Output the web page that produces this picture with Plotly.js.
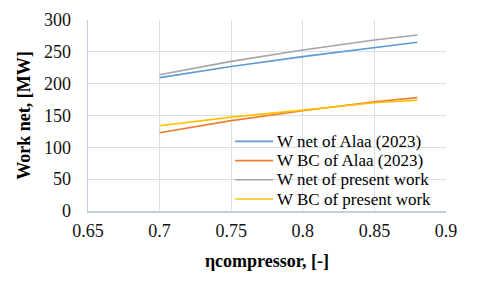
<!DOCTYPE html>
<html>
<head>
<meta charset="utf-8">
<script src="https://cdn.plot.ly/plotly-3.0.1.min.js"></script>
<style>
  html, body { margin: 0; padding: 0; background: #ffffff; }
  #chart { width: 480px; height: 282px; }
</style>
</head>
<body>
<div id="chart"></div>
<script>
// ---- data ----
const etaCompressor = [0.70, 0.75, 0.80, 0.85, 0.88];
const wNetAlaa      = [209.5, 227, 242.5, 256.5, 265];
const wBCAlaa       = [123, 142, 157.5, 171.5, 178];
const wNetPresent   = [214, 235, 253, 268.5, 276.5];
const wBCPresent    = [134, 147.5, 158.5, 170, 174];

const seriesNames  = ["W net of Alaa (2023)", "W BC of Alaa (2023)",
                      "W net of present work", "W BC of present work"];
const seriesValues = [wNetAlaa, wBCAlaa, wNetPresent, wBCPresent];
const seriesColors = ["#5B9BD5", "#ED7D31", "#A5A5A5", "#FFC000"];

const xTickVals = [0.65, 0.7, 0.75, 0.8, 0.85, 0.9];
const xTickText = ["0.65", "0.7", "0.75", "0.8", "0.85", "0.9"];
const yTickVals = [0, 50, 100, 150, 200, 250, 300];
const yTickText = ["0", "50", "100", "150", "200", "250", "300"];

const FONT = '"Liberation Serif", "Times New Roman", serif';

const traces = seriesValues.map((vals, i) => ({
  x: etaCompressor,
  y: vals,
  type: "scatter",
  mode: "lines",
  name: seriesNames[i],
  line: { color: seriesColors[i], width: 1.6 },
  showlegend: false
}));

// legend drawn as a compact key (rows spaced like the original)
const legX0 = 0.411, legX1 = 0.517, legTextX = 0.526;
const legRowsY = [0.3644, 0.2639, 0.1634, 0.0628];
const shapes = [];
const annotations = [];
seriesNames.forEach((nm, i) => {
  shapes.push({
    type: "line", xref: "paper", yref: "paper",
    x0: legX0, x1: legX1, y0: legRowsY[i], y1: legRowsY[i],
    line: { color: seriesColors[i], width: 1.6 }
  });
  annotations.push({
    xref: "paper", yref: "paper", x: legTextX, y: legRowsY[i],
    xanchor: "left", yanchor: "middle", showarrow: false,
    borderpad: 0,
    text: nm, font: { family: FONT, size: 17, color: "#000000" }
  });
});

const layout = {
  width: 480, height: 282,
  margin: { l: 88, r: 34, t: 20, b: 71 },
  paper_bgcolor: "#ffffff",
  plot_bgcolor: "#ffffff",
  font: { family: FONT, size: 18, color: "#000000" },
  xaxis: {
    range: [0.65, 0.9],
    tickvals: xTickVals, ticktext: xTickText,
    showgrid: true, gridcolor: "#d9dee7", gridwidth: 1,
    showline: true, linecolor: "#c3cedd", linewidth: 1.5,
    zeroline: false, ticks: "",
    ticklabelstandoff: 3,
    tickfont: { family: FONT, size: 18, color: "#111111" },
    title: { text: "ηcompressor, [-]", standoff: 14,
             font: { family: FONT, size: 18, color: "#000000", weight: "bold" } }
  },
  yaxis: {
    range: [0, 300],
    tickvals: yTickVals, ticktext: yTickText,
    showgrid: true, gridcolor: "#d9dee7", gridwidth: 1,
    showline: true, linecolor: "#c3cedd", linewidth: 1.5,
    zeroline: false, ticks: "",
    ticklabelstandoff: 12,
    tickfont: { family: FONT, size: 18, color: "#111111" },
    title: { text: "Work net, [MW]", standoff: 8,
             font: { family: FONT, size: 18, color: "#000000", weight: "bold" } }
  },
  showlegend: false,
  shapes: shapes,
  annotations: annotations
};

Plotly.newPlot("chart", traces, layout, { displayModeBar: false, staticPlot: true });
</script>
</body>
</html>
